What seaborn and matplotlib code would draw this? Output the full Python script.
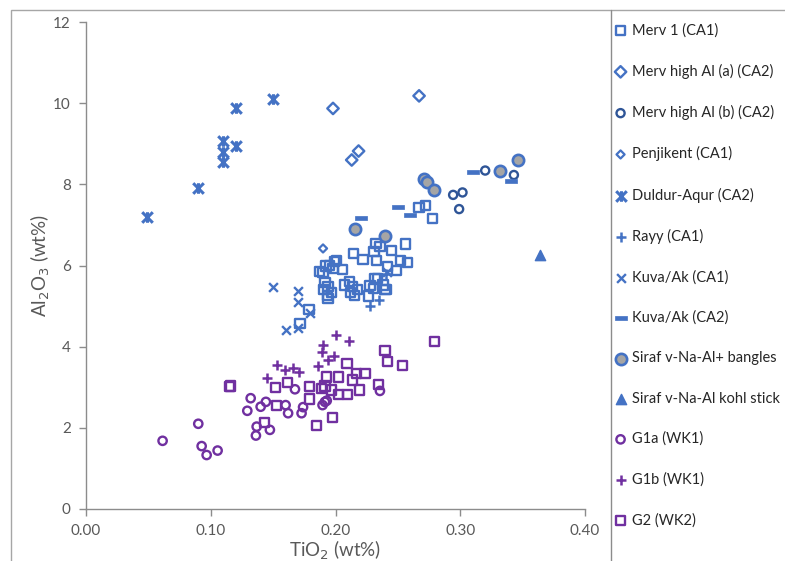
import numpy as np
import pandas as pd
import matplotlib
matplotlib.use("Agg")
import matplotlib.pyplot as plt
from matplotlib.path import Path
from matplotlib.patches import Rectangle
from matplotlib.lines import Line2D
import seaborn as sns

# ---------------- data ----------------
merv1_x = [0.267, 0.2724, 0.2775, 0.256, 0.2324, 0.2356, 0.2308, 0.245, 0.2147, 0.222, 0.233, 0.252,
           0.258, 0.249, 0.2414, 0.2316, 0.2276, 0.2302, 0.2396, 0.238, 0.2262, 0.211, 0.2075, 0.2137,
           0.212, 0.2155, 0.2174, 0.1995, 0.2057, 0.198, 0.1923, 0.187, 0.19, 0.1915, 0.194, 0.1907,
           0.1934, 0.194, 0.1969, 0.2009, 0.2335, 0.1787, 0.1715, 0.2404, 0.195]
merv1_y = [7.43, 7.47, 7.15, 6.53, 6.55, 6.46, 6.34, 6.37, 6.30, 6.14, 6.12, 6.12,
           6.07, 5.87, 5.97, 5.68, 5.50, 5.44, 5.41, 5.52, 5.25, 5.60, 5.52, 5.48,
           5.33, 5.27, 5.40, 6.09, 5.91, 5.93, 5.99, 5.85, 5.82, 5.58, 5.48, 5.41,
           5.27, 5.19, 5.33, 6.12, 5.68, 4.92, 4.57, 5.41, 6.00]

mervA_x = [0.198, 0.213, 0.2185, 0.267]
mervA_y = [9.87, 8.60, 8.82, 10.18]

mervB_x = [0.2943, 0.3018, 0.2991, 0.320, 0.343]
mervB_y = [7.74, 7.80, 7.39, 8.34, 8.23]

penj_x = [0.190]
penj_y = [6.42]

duldur_x = [0.049, 0.0895, 0.11, 0.11, 0.11, 0.12, 0.12, 0.15]
duldur_y = [7.20, 7.90, 9.06, 8.80, 8.54, 9.87, 8.95, 10.10]

rayy_x = [0.2276, 0.235, 0.193, 0.2404]
rayy_y = [5.00, 5.15, 5.38, 5.80]

kuva1_x = [0.150, 0.170, 0.170, 0.1795, 0.160, 0.170, 0.241]
kuva1_y = [5.48, 5.36, 5.11, 4.82, 4.41, 4.45, 5.85]

kuva2_x = [0.2204, 0.250, 0.260, 0.310, 0.3405]
kuva2_y = [7.18, 7.44, 7.25, 8.31, 8.07]

sirafB_x = [0.2158, 0.240, 0.271, 0.2735, 0.279, 0.3315, 0.3464]
sirafB_y = [6.89, 6.72, 8.13, 8.05, 7.86, 8.34, 8.59]

sirafK_x = [0.3638]
sirafK_y = [6.25]

g1a_x = [0.0614, 0.090, 0.0927, 0.0967, 0.1055, 0.1293, 0.132, 0.140, 0.1442, 0.1368, 0.1362,
         0.1474, 0.160, 0.162, 0.1675, 0.1728, 0.174, 0.1896, 0.1915, 0.193, 0.2356]
g1a_y = [1.68, 2.10, 1.55, 1.33, 1.44, 2.42, 2.73, 2.52, 2.64, 2.03, 1.81,
         1.95, 2.56, 2.36, 2.95, 2.36, 2.51, 2.56, 2.64, 2.67, 2.91]

g1b_x = [0.1453, 0.1528, 0.1595, 0.1656, 0.1707, 0.1857, 0.1893, 0.190, 0.1936, 0.199, 0.2003, 0.2107]
g1b_y = [3.22, 3.55, 3.43, 3.48, 3.38, 3.52, 3.88, 4.04, 3.67, 3.78, 4.29, 4.15]

g2_x = [0.1148, 0.116, 0.152, 0.1613, 0.1528, 0.1434, 0.179, 0.179, 0.1848, 0.1929, 0.1915, 0.189,
        0.1977, 0.197, 0.2027, 0.2022, 0.2093, 0.2096, 0.2137, 0.2169, 0.2236, 0.219, 0.2345,
        0.2396, 0.2417, 0.2537, 0.2796]
g2_y = [3.01, 3.03, 2.99, 3.11, 2.56, 2.13, 3.01, 2.71, 2.05, 3.25, 3.03, 2.97,
        2.26, 2.93, 3.25, 2.83, 3.59, 2.83, 3.18, 3.34, 3.34, 2.93, 3.07,
        3.90, 3.63, 3.53, 4.12]

labels = ["Merv 1 (CA1)", "Merv high Al (a) (CA2)", "Merv high Al (b) (CA2)", "Penjikent (CA1)",
          "Duldur-Aqur (CA2)", "Rayy (CA1)", "Kuva/Ak (CA1)", "Kuva/Ak (CA2)",
          "Siraf v-Na-Al+ bangles", "Siraf v-Na-Al kohl stick", "G1a (WK1)", "G1b (WK1)", "G2 (WK2)"]

x_ticks = [0.00, 0.10, 0.20, 0.30, 0.40]
y_ticks = [0, 2, 4, 6, 8, 10, 12]

# ---------------- styling ----------------
BLUE = "#4472C4"
DBLUE = "#2F5597"
PURPLE = "#7030A0"
GRAY = "#A5A5A5"
TXT = "#595959"

star = Path([(-1, -1), (1, 1), (-1, 1), (1, -1), (0, -1.0), (0, 1.0)],
            [Path.MOVETO, Path.LINETO] * 3)
dash = Path([(-1, -0.26), (1, -0.26), (1, 0.26), (-1, 0.26), (-1, -0.26)],
            [Path.MOVETO, Path.LINETO, Path.LINETO, Path.LINETO, Path.CLOSEPOLY])

sns.set_theme(style="white")
plt.rcParams["font.family"] = ["Lato", "DejaVu Sans"]

fig = plt.figure(figsize=(7.85, 5.61), dpi=100)
ax = fig.add_axes([86 / 785, 1 - 509 / 561, (585 - 86) / 785, (509 - 22) / 561])

series = [
    (merv1_x, merv1_y, dict(marker="s", s=44, color=BLUE, facecolors="none", edgecolor=BLUE, linewidth=1.7)),
    (mervA_x, mervA_y, dict(marker="D", s=34, color=BLUE, facecolors="none", edgecolor=BLUE, linewidth=1.7)),
    (mervB_x, mervB_y, dict(marker="o", s=34, color=DBLUE, facecolors="none", edgecolor=DBLUE, linewidth=1.7)),
    (penj_x, penj_y, dict(marker="D", s=17, color=BLUE, facecolors="none", edgecolor=BLUE, linewidth=1.6)),
    (duldur_x, duldur_y, dict(marker=star, s=58, color=BLUE, edgecolor=BLUE, linewidth=2.2)),
    (rayy_x, rayy_y, dict(marker="+", s=55, color=BLUE, linewidth=1.8)),
    (kuva1_x, kuva1_y, dict(marker="x", s=40, color=BLUE, linewidth=1.7)),
    (kuva2_x, kuva2_y, dict(marker=dash, s=80, color=BLUE, edgecolor=BLUE, linewidth=0.5)),
    (sirafB_x, sirafB_y, dict(marker="o", s=66, color=GRAY, facecolors=GRAY, edgecolor=BLUE, linewidth=1.9)),
    (sirafK_x, sirafK_y, dict(marker="^", s=55, color=BLUE, facecolors=BLUE, edgecolor=BLUE, linewidth=1.0)),
    (g1a_x, g1a_y, dict(marker="o", s=36, color=PURPLE, facecolors="none", edgecolor=PURPLE, linewidth=1.7)),
    (g1b_x, g1b_y, dict(marker="+", s=55, color=PURPLE, linewidth=1.8)),
    (g2_x, g2_y, dict(marker="s", s=44, color=PURPLE, facecolors="none", edgecolor=PURPLE, linewidth=1.7)),
]

for (xs, ys, kw), lab in zip(series, labels):
    sns.scatterplot(x=xs, y=ys, ax=ax, label=lab, legend=False, zorder=3, **kw)

ax.set_xlim(0, 0.40)
ax.set_ylim(0, 12)
ax.set_xticks(x_ticks)
ax.set_xticklabels([f"{v:.2f}" for v in x_ticks])
ax.set_yticks(y_ticks)
ax.set_yticklabels([str(v) for v in y_ticks])
ax.grid(False)
for side in ["top", "right"]:
    ax.spines[side].set_visible(False)
for side in ["left", "bottom"]:
    ax.spines[side].set_color("#8C8C8C")
    ax.spines[side].set_linewidth(1.0)
ax.tick_params(axis="both", direction="out", length=5, width=1.0, color="#8C8C8C",
               labelcolor=TXT, labelsize=11, pad=6)
ax.tick_params(axis="x", bottom=True)
ax.tick_params(axis="y", left=True)
ax.set_xlabel("TiO$_2$ (wt%)", fontsize=13.5, color=TXT, labelpad=0)
ax.set_ylabel("Al$_2$O$_3$ (wt%)", fontsize=13.5, color=TXT, labelpad=1)
ax.patch.set_alpha(0)

# outer chart border and legend panel border
fig.patches.append(Rectangle((11 / 785, -0.05), 1.0, 1 - 10 / 561 + 0.05, transform=fig.transFigure,
                             fill=False, edgecolor="#A6A6A6", linewidth=1.0))
fig.lines.append(Line2D([611 / 785, 611 / 785], [0, 1 - 10 / 561], transform=fig.transFigure,
                        color="#8C8C8C", linewidth=1.0))

handles, labs = ax.get_legend_handles_labels()
leg = fig.legend(handles, labs, loc="upper left", bbox_to_anchor=(614 / 785, 1 - 23 / 561),
                 frameon=False, fontsize=10.5, labelspacing=1.80, handlelength=0.9,
                 handletextpad=0.35, borderpad=0, borderaxespad=0, scatterpoints=1,
                 labelcolor="#262626")

fig.savefig("out.png", dpi=100)
